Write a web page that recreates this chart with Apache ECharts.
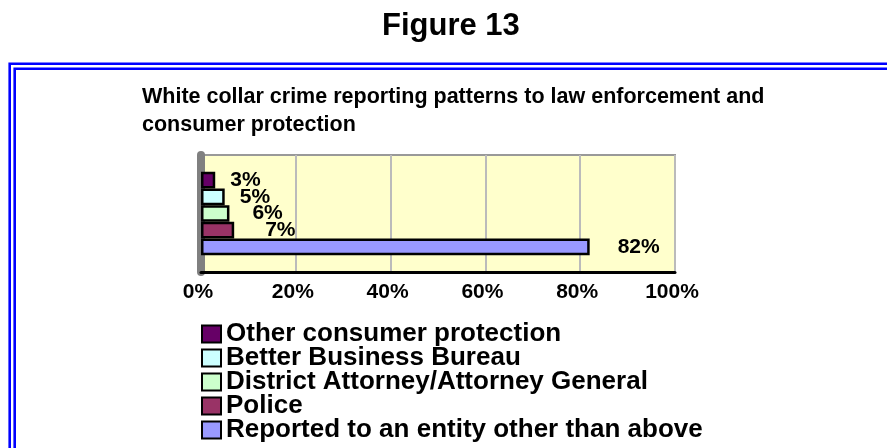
<!DOCTYPE html>
<html>
<head>
<meta charset="utf-8">
<title>Figure 13</title>
<script src="https://cdn.jsdelivr.net/npm/echarts@6/dist/echarts.min.js"></script>
<style>
  html, body { margin: 0; padding: 0; background: #ffffff; }
  #chart { width: 887px; height: 448px; }
</style>
</head>
<body>
<div id="chart"></div>
<script>
// Reporting channels, listed top to bottom as stacked in the bar group and legend
const seriesNames = [
  'Other consumer protection',
  'Better Business Bureau',
  'District Attorney/Attorney General',
  'Police',
  'Reported to an entity other than above'
];
// Share of white collar crimes reported to each channel (%)
const seriesValues = [3, 5, 6, 7, 82];
const seriesColors = ['#660066', '#CCFFFF', '#CCFFCC', '#993366', '#9999FF'];
// Gap between bar end and its value label, px
const labelDistances = [15, 15, 23, 31, 28];
const categories = [''];

const FONT = '"Liberation Sans", Arial, Helvetica, sans-serif';

const chart = echarts.init(document.getElementById('chart'), null, { renderer: 'canvas' });

const series = seriesNames.map((name, i) => ({
  name: name,
  type: 'bar',
  data: [seriesValues[i]],
  barGap: '0%',
  barCategoryGap: '28.8%',
  itemStyle: { color: seriesColors[i], borderColor: '#000000', borderWidth: 2.5 },
  label: {
    show: true,
    position: 'right',
    distance: labelDistances[i],
    formatter: '{c}%',
    color: '#000000',
    fontFamily: FONT,
    fontWeight: 'bold',
    fontSize: 21
  }
}));

chart.setOption({
  backgroundColor: '#ffffff',
  animation: false,
  title: [
    {
      text: 'Figure 13',
      left: 382,
      top: 11,
      padding: 0,
      textStyle: { fontFamily: FONT, fontWeight: 'bold', fontSize: 31, color: '#000000', lineHeight: 31 }
    },
    {
      text: 'White collar crime reporting patterns to law enforcement and\nconsumer protection',
      left: 142,
      top: 83,
      padding: 0,
      textStyle: { fontFamily: FONT, fontWeight: 'bold', fontSize: 21.5, color: '#000000', lineHeight: 28 }
    }
  ],
  legend: {
    orient: 'vertical',
    left: 201,
    top: 321,
    padding: 0,
    itemWidth: 19,
    itemHeight: 17,
    itemGap: -2,
    icon: 'rect',
    textStyle: { fontFamily: FONT, fontWeight: 'bold', fontSize: 26, color: '#000000' },
    data: seriesNames
  },
  grid: {
    left: 201,
    top: 155,
    width: 474,
    height: 117,
    show: true,
    backgroundColor: '#FFFFCC',
    borderColor: '#999999',
    borderWidth: 2,
    containLabel: false
  },
  xAxis: {
    type: 'value',
    min: 0,
    max: 100,
    interval: 20,
    axisLine: { show: true, lineStyle: { color: '#000000', width: 3 } },
    axisTick: { show: false },
    splitLine: { show: true, lineStyle: { color: '#BBBBBB', width: 2 } },
    axisLabel: {
      formatter: '{value}%',
      margin: 10,
      color: '#000000',
      fontFamily: FONT,
      fontWeight: 'bold',
      fontSize: 21,
      padding: [0, 6, 0, 0]
    }
  },
  yAxis: {
    type: 'category',
    data: categories,
    axisLine: { show: true, lineStyle: { color: '#808080', width: 8 } },
    axisTick: { show: false },
    axisLabel: { show: false },
    splitLine: { show: false }
  },
  graphic: [
    // double blue frame around the chart panel
    {
      type: 'rect',
      silent: true,
      shape: { x: 9.7, y: 63.7, width: 1000, height: 500 },
      style: { fill: null, stroke: '#0000FF', lineWidth: 2.6 }
    },
    {
      type: 'rect',
      silent: true,
      shape: { x: 14.7, y: 68.7, width: 1000, height: 500 },
      style: { fill: null, stroke: '#0000FF', lineWidth: 2.6 }
    }
  ],
  series: series
});
</script>
</body>
</html>
